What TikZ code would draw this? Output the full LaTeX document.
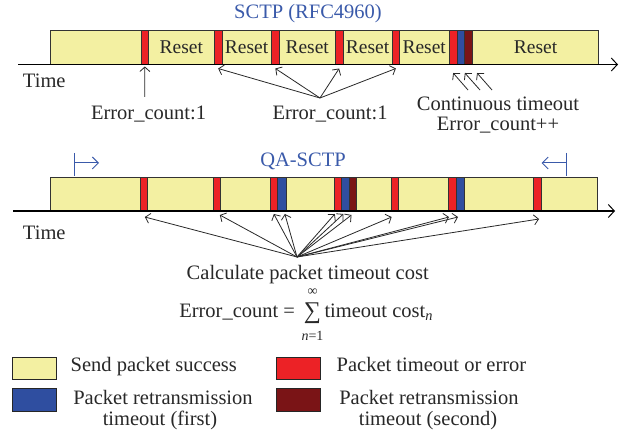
\documentclass[tikz,border=0pt]{standalone}
\usepackage{fontspec}
\setmainfont{Liberation Serif}
\usetikzlibrary{arrows.meta}
\definecolor{yel}{RGB}{243,240,162}
\definecolor{redc}{RGB}{236,34,38}
\definecolor{bluec}{RGB}{47,78,160}
\definecolor{dredc}{RGB}{122,20,22}
\definecolor{bluet}{RGB}{58,90,170}
\definecolor{ink}{RGB}{40,40,40}
\begin{document}
\begin{tikzpicture}[x=1pt,y=-1pt,
  txt/.style={inner sep=0pt, outer sep=0pt, text=ink, font=\fontsize{20.5}{20}\selectfont},
  small/.style={inner sep=0pt, outer sep=0pt, text=ink, font=\fontsize{14}{14}\selectfont},
  rst/.style={txt, anchor=base, font=\fontsize{19.5}{20}\selectfont},
  seg/.style={draw=black!80, line width=0.9pt, inner sep=0pt, outer sep=0pt, anchor=north west, minimum height=34pt},
  okb/.style={seg, fill=yel},
  errb/.style={seg, fill=redc, minimum width=7.7pt},
  r1b/.style={seg, fill=bluec, minimum width=7.7pt},
  r2b/.style={seg, fill=dredc, minimum width=7.7pt},
  legb/.style={draw=black!85, line width=1pt, inner sep=0pt, anchor=north west, minimum width=43.7pt, minimum height=22.3pt},
  axis/.style={line width=1.5pt, -{Straight Barb[length=6pt,width=13pt,line width=1pt]}},
  fan/.style={line width=0.8pt, draw=ink, -{Straight Barb[length=4.5pt,width=10pt,line width=0.8pt]}},
  brk/.style={line width=1pt, draw=bluet},
  brka/.style={brk, -{Straight Barb[length=6pt,width=12pt,line width=1pt]}}
]
\useasboundingbox (0,0) rectangle (632,435);

% ---------------- SCTP ----------------
\node[txt, text=bluet, anchor=base] (tsctp) at (308,18.3) {SCTP (RFC4960)};
\node[okb, minimum width=547.6pt] (sbar) at (50.7,30.5) {};
\node[errb] (s1) at (141,30.5) {};
\node[errb] (s2) at (214.3,30.5) {};
\node[errb] (s3) at (271.5,30.5) {};
\node[errb] (s4) at (335.3,30.5) {};
\node[errb] (s5) at (392,30.5) {};
\node[errb] (s6) at (449.3,30.5) {};
\node[r1b]  (s7) at (457,30.5) {};
\node[r2b]  (s8) at (464.7,30.5) {};
\node[rst] (rs1) at (181.3,53.3) {Reset};
\node[rst] (rs2) at (246.6,53.3) {Reset};
\node[rst] (rs3) at (307.2,53.3) {Reset};
\node[rst] (rs4) at (367.6,53.3) {Reset};
\node[rst] (rs5) at (424.2,53.3) {Reset};
\node[rst] (rs6) at (535.5,53.3) {Reset};
\coordinate (ta0) at (18,64.5);
\coordinate (ta1) at (618,64.5);
\draw[axis] (ta0) -- (ta1);
\node[txt, anchor=base west] (time1) at (23,87.7) {Time};

\node[txt, anchor=base] (ec1) at (148.5,119.3) {Error\_count:1};
\coordinate (a1) at (144.8,97);
\draw[fan] (a1) -- ([yshift=-2pt]s1.south);

\node[txt, anchor=base] (ec2) at (330,119.3) {Error\_count:1};
\coordinate (f2) at (320,98);
\draw[fan] (f2) -- ([yshift=-4pt]s2.south);
\draw[fan] (f2) -- ([yshift=-4pt]s3.south);
\draw[fan] (f2) -- ([yshift=-4pt]s4.south);
\draw[fan] (f2) -- ([yshift=-4pt]s5.south);

\node[txt, anchor=base] (ct1) at (498,111) {Continuous timeout};
\node[txt, anchor=base] (ct2) at (498,131) {Error\_count++};
\coordinate (c1) at (468,90);
\coordinate (c2) at (480,90);
\coordinate (c3) at (492,90);
\draw[fan] (c1) -- ([yshift=-8.5pt]s6.south);
\draw[fan] (c2) -- ([xshift=4pt,yshift=-8.5pt]s7.south);
\draw[fan] (c3) -- ([xshift=8.5pt,yshift=-8.5pt]s8.south);

% ---------------- QA-SCTP ----------------
\node[txt, text=bluet, anchor=base] (tqa) at (303,166.7) {QA-SCTP};
\coordinate (bl0) at (74,153);
\coordinate (bl1) at (74,176.5);
\coordinate (bl2) at (74,163);
\coordinate (bl3) at (99,163);
\draw[brk] (bl0) -- (bl1);
\draw[brka] (bl2) -- (bl3);
\coordinate (br0) at (566,153);
\coordinate (br1) at (566,176.5);
\coordinate (br2) at (566,163);
\coordinate (br3) at (541.5,163);
\draw[brk] (br0) -- (br1);
\draw[brka] (br2) -- (br3);

\node[okb, minimum width=547.5pt] (qbar) at (50,177) {};
\node[errb] (q1) at (140,177) {};
\node[errb] (q2) at (213,177) {};
\node[errb] (q3) at (270,177) {};
\node[r1b, minimum width=8.3pt] (q4) at (277.7,177) {};
\node[errb] (q5) at (334,177) {};
\node[r1b, minimum width=7.3pt] (q6) at (341.7,177) {};
\node[r2b, minimum width=7pt] (q7) at (349,177) {};
\node[errb, minimum width=7.3pt] (q8) at (391,177) {};
\node[errb, minimum width=8pt] (q9) at (448,177) {};
\node[r1b, minimum width=8pt] (q10) at (456,177) {};
\node[errb, minimum width=8pt] (q11) at (533,177) {};
\coordinate (tb0) at (13,211);
\coordinate (tb1) at (615,211);
\draw[axis] (tb0) -- (tb1);
\node[txt, anchor=base west] (time2) at (23,239.3) {Time};

\coordinate (f3) at (297,257);
\draw[fan] (f3) -- ([xshift=1pt,yshift=-6pt]q1.south);
\draw[fan] (f3) -- ([xshift=3pt,yshift=-4pt]q2.south);
\draw[fan] (f3) -- ([yshift=-3pt]q3.south);
\draw[fan] (f3) -- ([xshift=3pt,yshift=-3pt]q4.south);
\draw[fan] (f3) -- ([xshift=-3pt,yshift=-3pt]q5.south);
\draw[fan] (f3) -- ([xshift=-2pt,yshift=-3pt]q6.south);
\draw[fan] (f3) -- ([xshift=-1pt,yshift=-4pt]q7.south);
\draw[fan] (f3) -- ([xshift=-3pt,yshift=-6pt]q8.south);
\draw[fan] (f3) -- ([xshift=-3pt,yshift=-6pt]q9.south);
\draw[fan] (f3) -- ([xshift=-2pt,yshift=-6pt]q10.south);
\draw[fan] (f3) -- ([xshift=2pt,yshift=-8pt]q11.south);

\node[txt, anchor=base] (calc) at (307.7,280) {Calculate packet timeout cost};
% formula: Error_count = sum_{n=1}^{infty} timeout cost_n
\node[txt, anchor=base east] (eql) at (295,317.5) {Error\_count =};
\node[txt, anchor=base, font=\fontsize{24}{24}\selectfont] (eqs) at (312.5,318.5) {∑};
\node[small, anchor=center] (eqi) at (312.5,292) {∞};
\node[small, anchor=center] (eqn) at (312.5,336) {\textit{n}=1};
\node[txt, anchor=base west] (eqr) at (324.5,317.5) {timeout cost\textsubscript{\textit{n}}};

% ---------------- Legend ----------------
\node[legb, fill=yel]   (ly) at (12.3,356.7) {};
\node[legb, fill=bluec] (lb) at (12.3,388.3) {};
\node[legb, fill=redc]  (lr) at (276,356.7) {};
\node[legb, fill=dredc] (ld) at (276,388.3) {};
\node[txt, anchor=base west] (tly) at (70.7,371.7) {Send packet success};
\node[txt, anchor=base west] (tlr) at (336.7,371.7) {Packet timeout or error};
\node[txt, anchor=base] (tlb1) at (163,405) {Packet retransmission};
\node[txt, anchor=base] (tlb2) at (160,425) {timeout (first)};
\node[txt, anchor=base] (tld1) at (429,405) {Packet retransmission};
\node[txt, anchor=base] (tld2) at (428,425) {timeout (second)};
\end{tikzpicture}
\end{document}
